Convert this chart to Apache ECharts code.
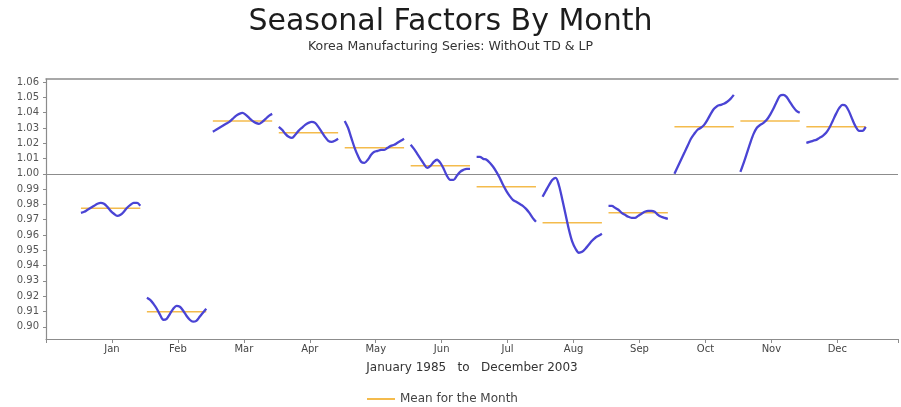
<!DOCTYPE html>
<html>
<head>
<meta charset="utf-8">
<script src="https://cdn.jsdelivr.net/npm/echarts@6/dist/echarts.min.js"></script>
<style>
  html, body { margin: 0; padding: 0; background: #fff; }
  #chart { width: 901px; height: 407px; }
</style>
</head>
<body>
<div id="chart"></div>
<script>
// Month labels on the x axis
const monthLabels = ['Jan', 'Feb', 'Mar', 'Apr', 'May', 'Jun', 'Jul', 'Aug', 'Sep', 'Oct', 'Nov', 'Dec'];

// Y-axis tick values
const yTicks = [0.90, 0.91, 0.92, 0.93, 0.94, 0.95, 0.96, 0.97, 0.98, 0.99, 1.00,
                1.01, 1.02, 1.03, 1.04, 1.05, 1.06];

// Seasonal factors for each calendar month, one value per year (1985 .. 2003)
const janFactors = [0.9745, 0.9752, 0.9765, 0.9778, 0.9791, 0.9804, 0.9810, 0.9804, 0.9784, 0.9758,
                    0.9739, 0.9725, 0.9732, 0.9752, 0.9778, 0.9797, 0.9810, 0.9810, 0.9791];
const febFactors = [0.9190, 0.9176, 0.9150, 0.9118, 0.9078, 0.9046, 0.9052, 0.9085, 0.9118, 0.9137,
                    0.9131, 0.9105, 0.9072, 0.9046, 0.9033, 0.9039, 0.9065, 0.9092, 0.9118];
const marFactors = [1.0275, 1.0288, 1.0301, 1.0314, 1.0327, 1.0340, 1.0359, 1.0379, 1.0392, 1.0399,
                    1.0386, 1.0366, 1.0346, 1.0333, 1.0327, 1.0340, 1.0359, 1.0379, 1.0392];
const aprFactors = [1.0307, 1.0288, 1.0261, 1.0242, 1.0235, 1.0255, 1.0281, 1.0301, 1.0320, 1.0333,
                    1.0340, 1.0333, 1.0307, 1.0275, 1.0242, 1.0216, 1.0209, 1.0216, 1.0229];
const mayFactors = [1.0346, 1.0301, 1.0235, 1.0170, 1.0118, 1.0078, 1.0072, 1.0092, 1.0124, 1.0144,
                    1.0150, 1.0157, 1.0157, 1.0170, 1.0183, 1.0190, 1.0203, 1.0216, 1.0229];
const junFactors = [1.0190, 1.0163, 1.0131, 1.0098, 1.0065, 1.0039, 1.0052, 1.0078, 1.0092, 1.0072,
                    1.0033, 0.9987, 0.9961, 0.9961, 0.9987, 1.0013, 1.0026, 1.0033, 1.0033];
const julFactors = [1.0111, 1.0111, 1.0098, 1.0092, 1.0072, 1.0046, 1.0013, 0.9974, 0.9928, 0.9889,
                    0.9856, 0.9830, 0.9817, 0.9804, 0.9791, 0.9771, 0.9745, 0.9712, 0.9686];
const augFactors = [0.9850, 0.9889, 0.9928, 0.9961, 0.9974, 0.9922, 0.9830, 0.9732, 0.9634, 0.9556,
                    0.9510, 0.9484, 0.9490, 0.9510, 0.9536, 0.9562, 0.9582, 0.9595, 0.9608];
const sepFactors = [0.9791, 0.9791, 0.9778, 0.9765, 0.9745, 0.9732, 0.9719, 0.9712, 0.9712, 0.9725,
                    0.9739, 0.9752, 0.9758, 0.9758, 0.9752, 0.9732, 0.9719, 0.9712, 0.9706];
const octFactors = [1.0000, 1.0046, 1.0092, 1.0137, 1.0183, 1.0229, 1.0261, 1.0288, 1.0301, 1.0320,
                    1.0353, 1.0392, 1.0425, 1.0444, 1.0451, 1.0458, 1.0471, 1.0490, 1.0516];
const novFactors = [1.0013, 1.0072, 1.0137, 1.0203, 1.0261, 1.0301, 1.0320, 1.0333, 1.0353, 1.0386,
                    1.0425, 1.0471, 1.0510, 1.0516, 1.0503, 1.0471, 1.0438, 1.0412, 1.0399];
const decFactors = [1.0203, 1.0209, 1.0216, 1.0222, 1.0235, 1.0248, 1.0268, 1.0301, 1.0346, 1.0392,
                    1.0431, 1.0451, 1.0444, 1.0405, 1.0353, 1.0307, 1.0281, 1.0281, 1.0307];

// Mean seasonal factor of each month
const monthMeans = [0.9775, 0.9098, 1.0346, 1.0268, 1.0170, 1.0052, 0.9915, 0.9680, 0.9745, 1.0307, 1.0346, 1.0307];

const factorsByMonth = [janFactors, febFactors, marFactors, aprFactors, mayFactors, junFactors,
                        julFactors, augFactors, sepFactors, octFactors, novFactors, decFactors];

const FONT = "'DejaVu Sans', 'Liberation Sans', Arial, sans-serif";
const CURVE_COLOR = '#4a44d4';
const MEAN_COLOR = '#f4bb4c';
const AXIS_COLOR = '#8c8c8c';
const MEAN_NAME = 'Mean for the Month';

// Each month's yearly values are spread across a band centred on the month tick
const bandStart = -0.47;
const bandStep = 0.05;
const X_MAX = 12.92;

const series = [];
factorsByMonth.forEach((vals, k) => {
  const m = k + 1;
  const first = m + bandStart;
  const last = m + bandStart + bandStep * (vals.length - 1);
  series.push({
    type: 'line',
    name: MEAN_NAME,
    data: [[first, monthMeans[k]], [last, monthMeans[k]]],
    symbol: 'none',
    itemStyle: { color: MEAN_COLOR },
    lineStyle: { color: MEAN_COLOR, width: 1.5 },
    silent: true,
    z: 2
  });
  series.push({
    type: 'line',
    name: 'factors-' + monthLabels[k],
    data: vals.map((v, i) => [m + bandStart + i * bandStep, v]),
    symbol: 'none',
    smooth: 0.3,
    lineStyle: { color: CURVE_COLOR, width: 2.3 },
    silent: true,
    z: 3
  });
});

// Reference line at 1.00
series[1].markLine = {
  silent: true,
  symbol: ['none', 'none'],
  label: { show: false },
  lineStyle: { color: AXIS_COLOR, type: 'solid', width: 1.2 },
  data: [{ yAxis: 1.0 }],
  z: 1
};

const chart = echarts.init(document.getElementById('chart'), null, { renderer: 'canvas' });
chart.setOption({
  animation: false,
  backgroundColor: '#ffffff',
  textStyle: { fontFamily: FONT },
  title: {
    text: 'Seasonal Factors By Month',
    subtext: 'Korea Manufacturing Series: WithOut TD & LP',
    left: 'center',
    top: 2,
    itemGap: 3,
    textStyle: { fontFamily: FONT, fontSize: 30, fontWeight: 'normal', color: '#1c1c1c' },
    subtextStyle: { fontFamily: FONT, fontSize: 12.5, color: '#333' }
  },
  legend: {
    data: [{ name: MEAN_NAME, icon: 'rect' }],
    left: 362,
    top: 388,
    itemWidth: 28,
    itemHeight: 2,
    itemGap: 9,
    textStyle: { fontFamily: FONT, fontSize: 12, color: '#444' },
    selectedMode: false
  },
  grid: {
    left: 46,
    top: 79,
    right: 2,
    height: 260,
    show: false,
    containLabel: false
  },
  xAxis: [
    {
      type: 'value',
      min: 0,
      max: X_MAX,
      interval: 1,
      name: 'January 1985   to   December 2003',
      nameLocation: 'middle',
      nameGap: 23,
      nameTextStyle: { fontFamily: FONT, fontSize: 12, color: '#333' },
      axisLine: { show: true, lineStyle: { color: AXIS_COLOR, width: 1.2 } },
      axisTick: { show: true, length: 4, lineStyle: { color: AXIS_COLOR } },
      axisLabel: {
        fontFamily: FONT,
        fontSize: 10,
        color: '#444',
        margin: 5,
        formatter: v => monthLabels[v - 1] || ''
      },
      splitLine: { show: false }
    },
    {
      // frame line along the top of the plot
      type: 'value',
      position: 'top',
      min: 0,
      max: X_MAX,
      axisLine: { show: true, lineStyle: { color: AXIS_COLOR, width: 1.5 } },
      axisTick: { show: false },
      axisLabel: { show: false },
      splitLine: { show: false }
    }
  ],
  yAxis: {
    type: 'value',
    min: 0.892,
    max: 1.062,
    axisLine: { show: true, lineStyle: { color: AXIS_COLOR, width: 1.2 } },
    axisTick: { show: true, length: 3, customValues: yTicks, lineStyle: { color: AXIS_COLOR } },
    axisLabel: {
      customValues: yTicks,
      fontFamily: FONT,
      fontSize: 10,
      color: '#555',
      margin: 7,
      formatter: v => v.toFixed(2)
    },
    splitLine: { show: false }
  },
  series: series
});
</script>
</body>
</html>
